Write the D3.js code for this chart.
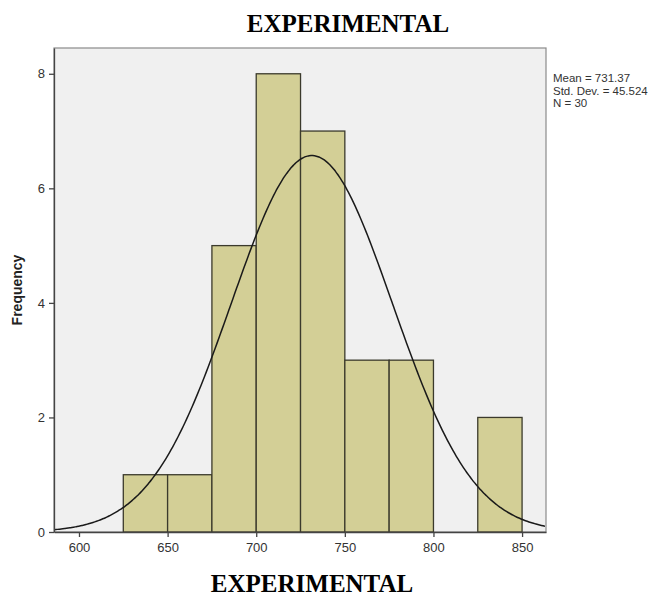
<!DOCTYPE html>
<html><head><meta charset="utf-8">
<script src="https://cdn.jsdelivr.net/npm/d3@7/dist/d3.min.js"></script>
<style>body{margin:0;background:#fff}</style>
</head><body>
<script>
const binStarts = [625, 650, 675, 700, 725, 750, 775, 800, 825];
const binWidth = 25;
const frequencies = [1, 1, 5, 8, 7, 3, 3, 0, 2];
const xTicks = [600, 650, 700, 750, 800, 850];
const yTicks = [0, 2, 4, 6, 8];
const statsLabels = ["Mean = 731.37", "Std. Dev. = 45.524", "N = 30"];
const mean = 731.37, sd = 45.524, n = 30;

const W = 660, H = 597;
const svg = d3.select("body").append("svg").attr("width", W).attr("height", H);
const L = 54, R = 546, T = 48, B = 532;
const x = d3.scaleLinear().domain([585.9, 863.5]).range([L, R]);
const y = d3.scaleLinear().domain([0, 8.45]).range([B, T]);

svg.append("rect").attr("x", L).attr("y", T).attr("width", R - L).attr("height", B - T)
  .attr("fill", "#f0f0f0").attr("stroke", "#8a8a8a").attr("stroke-width", 1.2);

const bins = binStarts.map((s, i) => ({x0: s, x1: s + binWidth, c: frequencies[i]})).filter(d => d.c > 0);
svg.append("g").selectAll("rect").data(bins).join("rect")
  .attr("x", d => x(d.x0)).attr("y", d => y(d.c))
  .attr("width", d => x(d.x1) - x(d.x0)).attr("height", d => y(0) - y(d.c))
  .attr("fill", "#d3cf96").attr("stroke", "#3b3a2c").attr("stroke-width", 1.3);

// fitted normal curve from the stated mean / sd / N
const xs = d3.range(585.9, 863.6, 1);
const pdf = v => n * binWidth * Math.exp(-0.5 * ((v - mean) / sd) ** 2) / (sd * Math.sqrt(2 * Math.PI));
svg.append("path").datum(xs)
  .attr("d", d3.line().x(v => x(v)).y(v => y(pdf(v))).curve(d3.curveBasis))
  .attr("fill", "none").attr("stroke", "#1a1a1a").attr("stroke-width", 1.5);

const xAxis = svg.append("g").attr("transform", `translate(0,${B})`)
  .call(d3.axisBottom(x).tickValues(xTicks).tickSize(5).tickSizeOuter(0));
const yAxis = svg.append("g").attr("transform", `translate(${L},0)`)
  .call(d3.axisLeft(y).tickValues(yTicks).tickSize(5).tickSizeOuter(0));
[xAxis, yAxis].forEach(g => {
  g.select(".domain").attr("stroke", "#444").attr("stroke-width", 1.3);
  g.selectAll(".tick line").attr("stroke", "#444").attr("stroke-width", 1.3);
  g.selectAll(".tick text").attr("fill", "#333").attr("font-family", "Arial, 'Liberation Sans', sans-serif").attr("font-size", 13);
});
xAxis.selectAll(".tick text").attr("dy", "0.95em");
yAxis.selectAll(".tick text").attr("dx", "-1px");

svg.append("text").attr("transform", "translate(22,290) rotate(-90)")
  .attr("text-anchor", "middle").attr("font-family", "Arial, 'Liberation Sans', sans-serif")
  .attr("font-weight", "bold").attr("font-size", 14).attr("fill", "#222").text("Frequency");

svg.append("g").selectAll("text").data(statsLabels).join("text")
  .attr("x", 553).attr("y", (d, i) => 82 + i * 12.5)
  .attr("font-family", "Arial, 'Liberation Sans', sans-serif").attr("font-size", 11.5).attr("fill", "#333")
  .text(d => d);

svg.append("text").attr("x", 348).attr("y", 32).attr("text-anchor", "middle")
  .attr("font-family", "'Liberation Serif', 'Times New Roman', serif").attr("font-weight", "bold")
  .attr("font-size", 25).text("EXPERIMENTAL");
svg.append("text").attr("x", 312).attr("y", 592).attr("text-anchor", "middle")
  .attr("font-family", "'Liberation Serif', 'Times New Roman', serif").attr("font-weight", "bold")
  .attr("font-size", 25).text("EXPERIMENTAL");
</script>
</body></html>
